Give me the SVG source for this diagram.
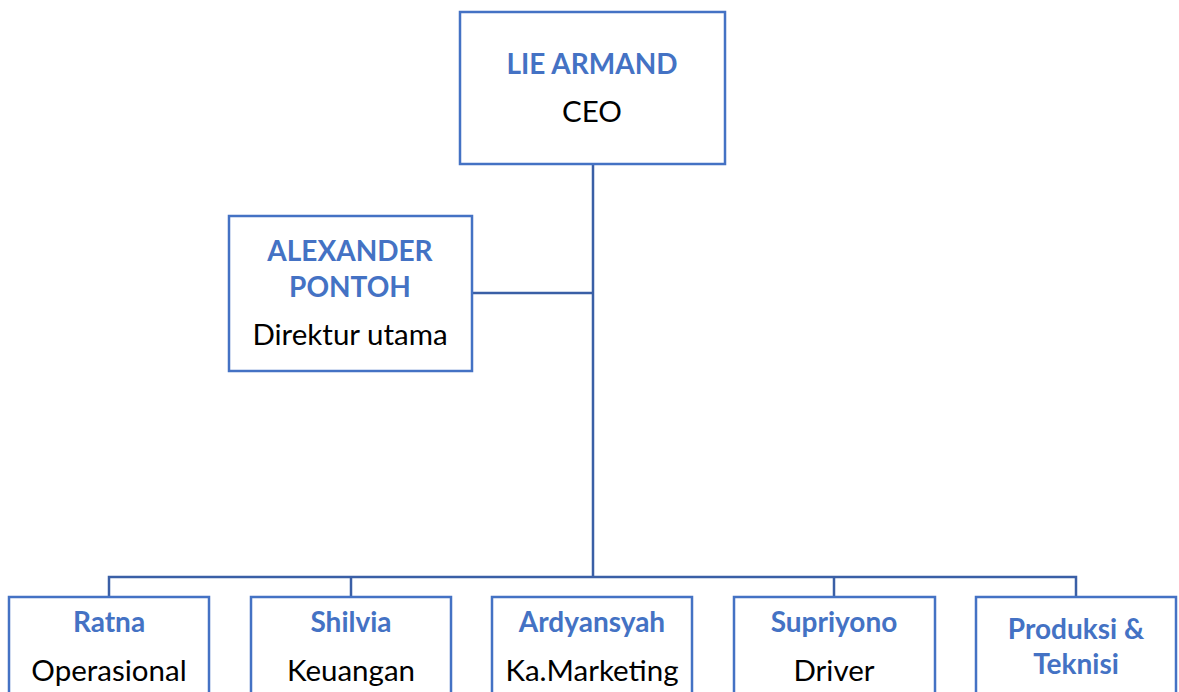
<svg xmlns="http://www.w3.org/2000/svg" width="1179" height="692" viewBox="0 0 1179 692">
<style>
.box{fill:#fff;stroke:#4472C4;stroke-width:2.5}
.conn{fill:none;stroke:#3A5FA6;stroke-width:2.5}
.n{font-family:Lato,"Open Sans",sans-serif;font-weight:bold;fill:#4472C4;font-size:28px;text-anchor:middle}
.r{font-family:Lato,"Open Sans",sans-serif;fill:#000;font-size:29.5px;text-anchor:middle}
</style>
<rect width="1179" height="692" fill="#fff"/>
<g id="connectors">
<path class="conn" d="M593 164V577M472 293H593M109 597V577H1076V597M351 577V597M834 577V597"/>
</g>
<g id="ceo"><rect class="box" x="460" y="12" width="265" height="152"/><text class="n" x="592" y="74">LIE ARMAND</text><text class="r" x="592" y="122">CEO</text></g>
<g id="direktur"><rect class="box" x="229" y="216" width="243" height="155"/><text class="n" x="350" y="261">ALEXANDER</text><text class="n" x="350" y="297">PONTOH</text><text class="r" x="350" y="345">Direktur utama</text></g>
<g id="ratna"><rect class="box" x="9" y="597" width="200" height="110"/><text class="n" x="109" y="632">Ratna</text><text class="r" x="109" y="681">Operasional</text></g>
<g id="shilvia"><rect class="box" x="251" y="597" width="200" height="110"/><text class="n" x="351" y="632">Shilvia</text><text class="r" x="351" y="681">Keuangan</text></g>
<g id="ardyansyah"><rect class="box" x="492" y="597" width="200" height="110"/><text class="n" x="592" y="632">Ardyansyah</text><text class="r" x="592" y="681">Ka.Marketing</text></g>
<g id="supriyono"><rect class="box" x="734" y="597" width="201" height="110"/><text class="n" x="834" y="632">Supriyono</text><text class="r" x="834" y="681">Driver</text></g>
<g id="produksi"><rect class="box" x="976" y="597" width="200" height="110"/><text class="n" x="1076" y="639">Produksi &amp;</text><text class="n" x="1076" y="674">Teknisi</text></g>
</svg>
